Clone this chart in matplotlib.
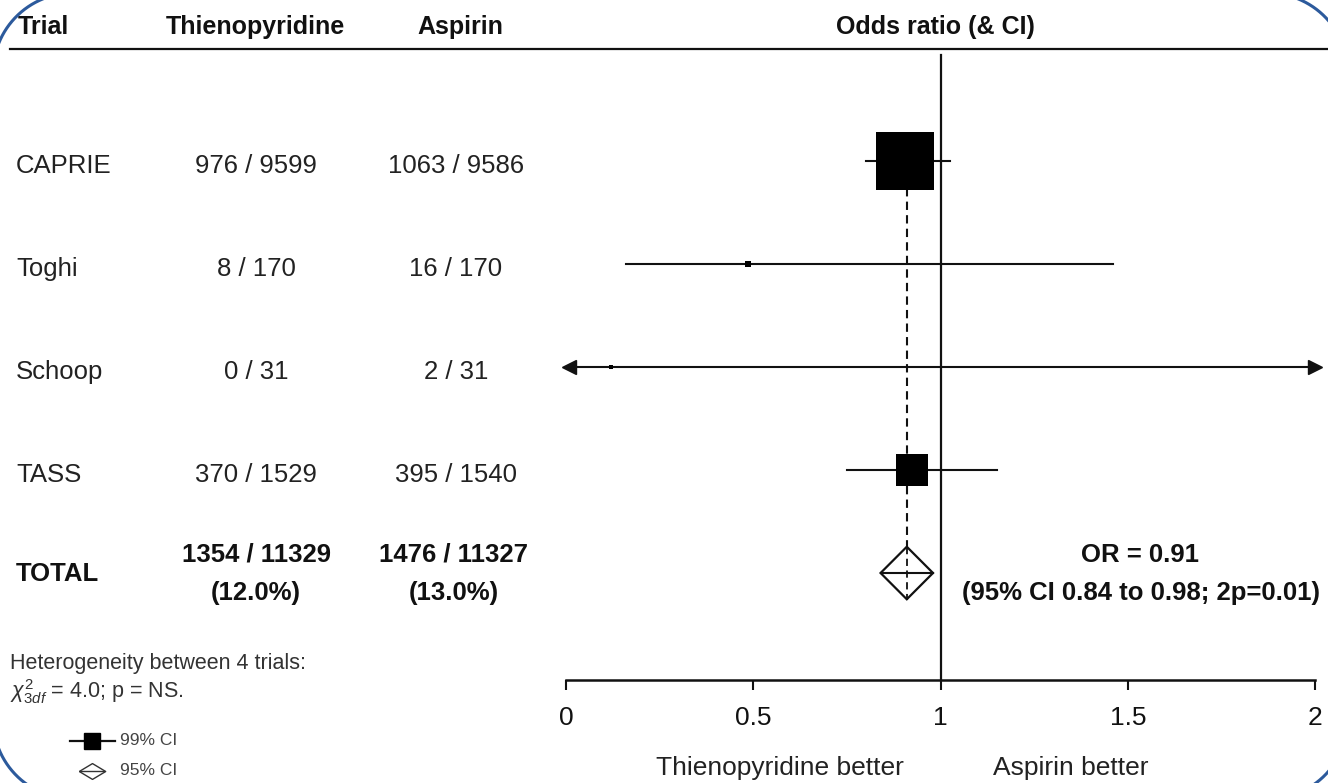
import numpy as np
import matplotlib.pyplot as plt
from matplotlib.patches import Polygon
from matplotlib.lines import Line2D
from matplotlib.transforms import blended_transform_factory

plt.rcParams['font.family'] = ['Liberation Sans', 'DejaVu Sans']
plt.rcParams['mathtext.fontset'] = 'custom'
plt.rcParams['mathtext.rm'] = 'Liberation Sans'
plt.rcParams['mathtext.it'] = 'Liberation Sans:italic'

# data
trials = ['CAPRIE', 'Toghi', 'Schoop', 'TASS']
thieno_events = [976, 8, 0, 370]
thieno_total = [9599, 170, 31, 1529]
aspirin_events = [1063, 16, 2, 395]
aspirin_total = [9586, 170, 31, 1540]
odds_ratio = [0.905, 0.485, 0.12, 0.925]
ci_low = [0.80, 0.16, 0.0, 0.75]     # Schoop runs off the scale on both sides
ci_high = [1.025, 1.46, 2.0, 1.15]
total_or = 0.91
total_ci = [0.84, 0.98]
total_thieno = ['1354 / 11329', '(12.0%)']
total_aspirin = ['1476 / 11327', '(13.0%)']
xticks = [0, 0.5, 1, 1.5, 2]
xticklabels = ['0', '0.5', '1', '1.5', '2']

W, H = 1328, 783
fig = plt.figure(figsize=(W / 100, H / 100), dpi=100)
ax = fig.add_axes([566 / W, 0, 749 / W, 1])
ax.set_xlim(0, 2)
# rows are 103 px apart, first one at y=161 px
ax.set_ylim((H - 161) / 103, -161 / 103)
ax.patch.set_visible(False)
for s in ['top', 'left', 'right']:
    ax.spines[s].set_visible(False)
ax.set_yticks([])

AXIS_Y = (680 - 161) / 103
ax.spines['bottom'].set_position(('data', AXIS_Y))
ax.spines['bottom'].set_linewidth(1.8)
ax.spines['bottom'].set_color('#111111')
ax.set_xticks(xticks)
ax.set_xticklabels(xticklabels)
ax.tick_params(axis='x', direction='out', length=7, width=1.5, pad=12,
               labelsize=19, colors='#111111')

ink = '#111111'
grey = '#222222'
rows = np.arange(len(trials))
total_row = len(trials)

# weights for box size (inverse variance of log OR)
a = np.array(thieno_events, float)
b = np.array(thieno_total, float) - a
c = np.array(aspirin_events, float)
d = np.array(aspirin_total, float) - c
zero = (a == 0) | (c == 0)
a, b, c, d = [v + 0.5 * zero for v in (a, b, c, d)]
weight = 1 / (1 / a + 1 / b + 1 / c + 1 / d)
box_pt = np.maximum(2.68 * np.sqrt(weight), 5) * 0.72

# line of no effect and pooled estimate
ax.plot([1, 1], [-1.03, AXIS_Y], color=ink, lw=1.6, zorder=2)
ax.plot([total_or, total_or], [rows[0], total_row + 0.26], color=ink, lw=1.5,
        ls=(0, (4, 2.5)), zorder=1)

for i in rows:
    lo, hi = ci_low[i], ci_high[i]
    left = lo <= 0
    right = hi >= 2
    x0 = 0.008 if left else lo
    x1 = 2.0 if right else hi
    ax.plot([x0, x1], [i, i], color=ink, lw=1.5, zorder=3, clip_on=False)
    if left:
        ax.plot(x0, i, marker='<', ms=10, color=ink, clip_on=False, zorder=3)
    if right:
        ax.plot(x1, i, marker='>', ms=10, color=ink, clip_on=False, zorder=3)
    ax.plot(odds_ratio[i], i, marker='s', ms=box_pt[i], color='black', mec='black',
            mew=0, zorder=4)

# pooled diamond
dh = 0.255
diamond = Polygon([(total_ci[0], total_row), (total_or, total_row - dh),
                   (total_ci[1], total_row), (total_or, total_row + dh)],
                  closed=True, facecolor='white', edgecolor=ink, lw=1.6, zorder=4)
ax.add_patch(diamond)
ax.plot(total_ci, [total_row, total_row], color=ink, lw=1.5, zorder=5)
ax.plot([total_or, total_or], [total_row - dh, total_row + dh], color=ink, lw=1.3,
        ls=(0, (4, 2.5)), zorder=5)

# table text on the left
tr = blended_transform_factory(fig.transFigure, ax.transData)
def fx(px):
    return px / W

def py(px):
    return (px - 161) / 103

head_y = py(27)
ax.text(fx(18), head_y, 'Trial', transform=tr, ha='left', va='center',
        fontsize=18, fontweight='bold', color=ink)
ax.text(fx(255), head_y, 'Thienopyridine', transform=tr, ha='center', va='center',
        fontsize=18, fontweight='bold', color=ink)
ax.text(fx(460), head_y, 'Aspirin', transform=tr, ha='center', va='center',
        fontsize=18, fontweight='bold', color=ink)
ax.text(fx(935), head_y, 'Odds ratio (& CI)', transform=tr, ha='center', va='center',
        fontsize=18, fontweight='bold', color=ink)
fig.add_artist(Line2D([10 / W, 1], [1 - 49 / H] * 2, color=ink, lw=1.6))

for i in rows:
    yt = i + 0.05
    ax.text(fx(16), yt, trials[i], transform=tr, ha='left', va='center',
            fontsize=18.5, color=grey)
    ax.text(fx(256), yt, f'{thieno_events[i]} / {thieno_total[i]}', transform=tr,
            ha='center', va='center', fontsize=18.5, color=grey)
    ax.text(fx(456), yt, f'{aspirin_events[i]} / {aspirin_total[i]}', transform=tr,
            ha='center', va='center', fontsize=18.5, color=grey)

ax.text(fx(16), py(574), 'TOTAL', transform=tr, ha='left', va='center',
        fontsize=18.5, fontweight='bold', color=ink)
for j, yy in enumerate([py(555), py(593)]):
    ax.text(fx(256), yy, total_thieno[j], transform=tr, ha='center', va='center',
            fontsize=18.5, fontweight='bold', color=ink)
    ax.text(fx(454), yy, total_aspirin[j], transform=tr, ha='center', va='center',
            fontsize=18.5, fontweight='bold', color=ink)

ax.text(fx(1140), py(555), f'OR = {total_or:.2f}', transform=tr, ha='center',
        va='center', fontsize=18.5, fontweight='bold', color=ink)
ax.text(fx(1141), py(593), f'(95% CI {total_ci[0]:.2f} to {total_ci[1]:.2f}; 2p=0.01)',
        transform=tr, ha='center', va='center', fontsize=18.5, fontweight='bold',
        color=ink)

# heterogeneity note
ax.text(fx(10), py(664), 'Heterogeneity between 4 trials:', transform=tr,
        ha='left', va='center', fontsize=15.5, color='#333333')
ax.text(fx(10), py(692), r'$\mathit{\chi}^{2}_{3df}$ = 4.0; p = NS.', transform=tr,
        ha='left', va='center', fontsize=15.5, color='#333333')

# little legend
ly1, ly2 = py(741), py(771)
ax.plot([fx(70), fx(115)], [ly1, ly1], transform=tr, color=ink, lw=1.6, clip_on=False)
ax.plot([fx(92)], [ly1], transform=tr, marker='s', ms=12, color='black', clip_on=False)
ax.text(fx(120), ly1, '99% CI', transform=tr, ha='left', va='center',
        fontsize=12.5, color='#444444')
diamond_marker = [(-1, 0), (0, 0.6), (1, 0), (0, -0.6), (-1, 0)]
ax.plot([fx(92)], [ly2], transform=tr, marker=diamond_marker, ms=19, mfc='white',
        mec='#333333', mew=1.0, clip_on=False)
ax.plot([fx(80), fx(104)], [ly2, ly2], transform=tr, color='#333333', lw=1.0,
        clip_on=False)
ax.text(fx(120), ly2, '95% CI', transform=tr, ha='left', va='center',
        fontsize=12.5, color='#444444')

# direction labels
ax.text(0.572, py(768), 'Thienopyridine better', ha='center', va='center',
        fontsize=19, color=grey)
ax.text(1.347, py(768), 'Aspirin better', ha='center', va='center',
        fontsize=19, color=grey)

# rounded blue slide frame (pixel geometry), only its corners show
x_l, x_r, y_t, y_b, r = -7, 1348, -7, 799, 80
t = np.linspace(0, np.pi / 2, 30)
fx_pts, fy_pts = [], []
for cx, cy, start in [(x_r - r, y_t + r, -np.pi / 2), (x_r - r, y_b - r, 0),
                      (x_l + r, y_b - r, np.pi / 2), (x_l + r, y_t + r, np.pi)]:
    fx_pts.extend(cx + r * np.cos(start + t))
    fy_pts.extend(cy + r * np.sin(start + t))
fx_pts.append(fx_pts[0])
fy_pts.append(fy_pts[0])
fig.add_artist(Line2D(np.array(fx_pts) / W, 1 - np.array(fy_pts) / H,
                      color='#2c5a9c', lw=2.2))

fig.savefig('out.png', dpi=100)
